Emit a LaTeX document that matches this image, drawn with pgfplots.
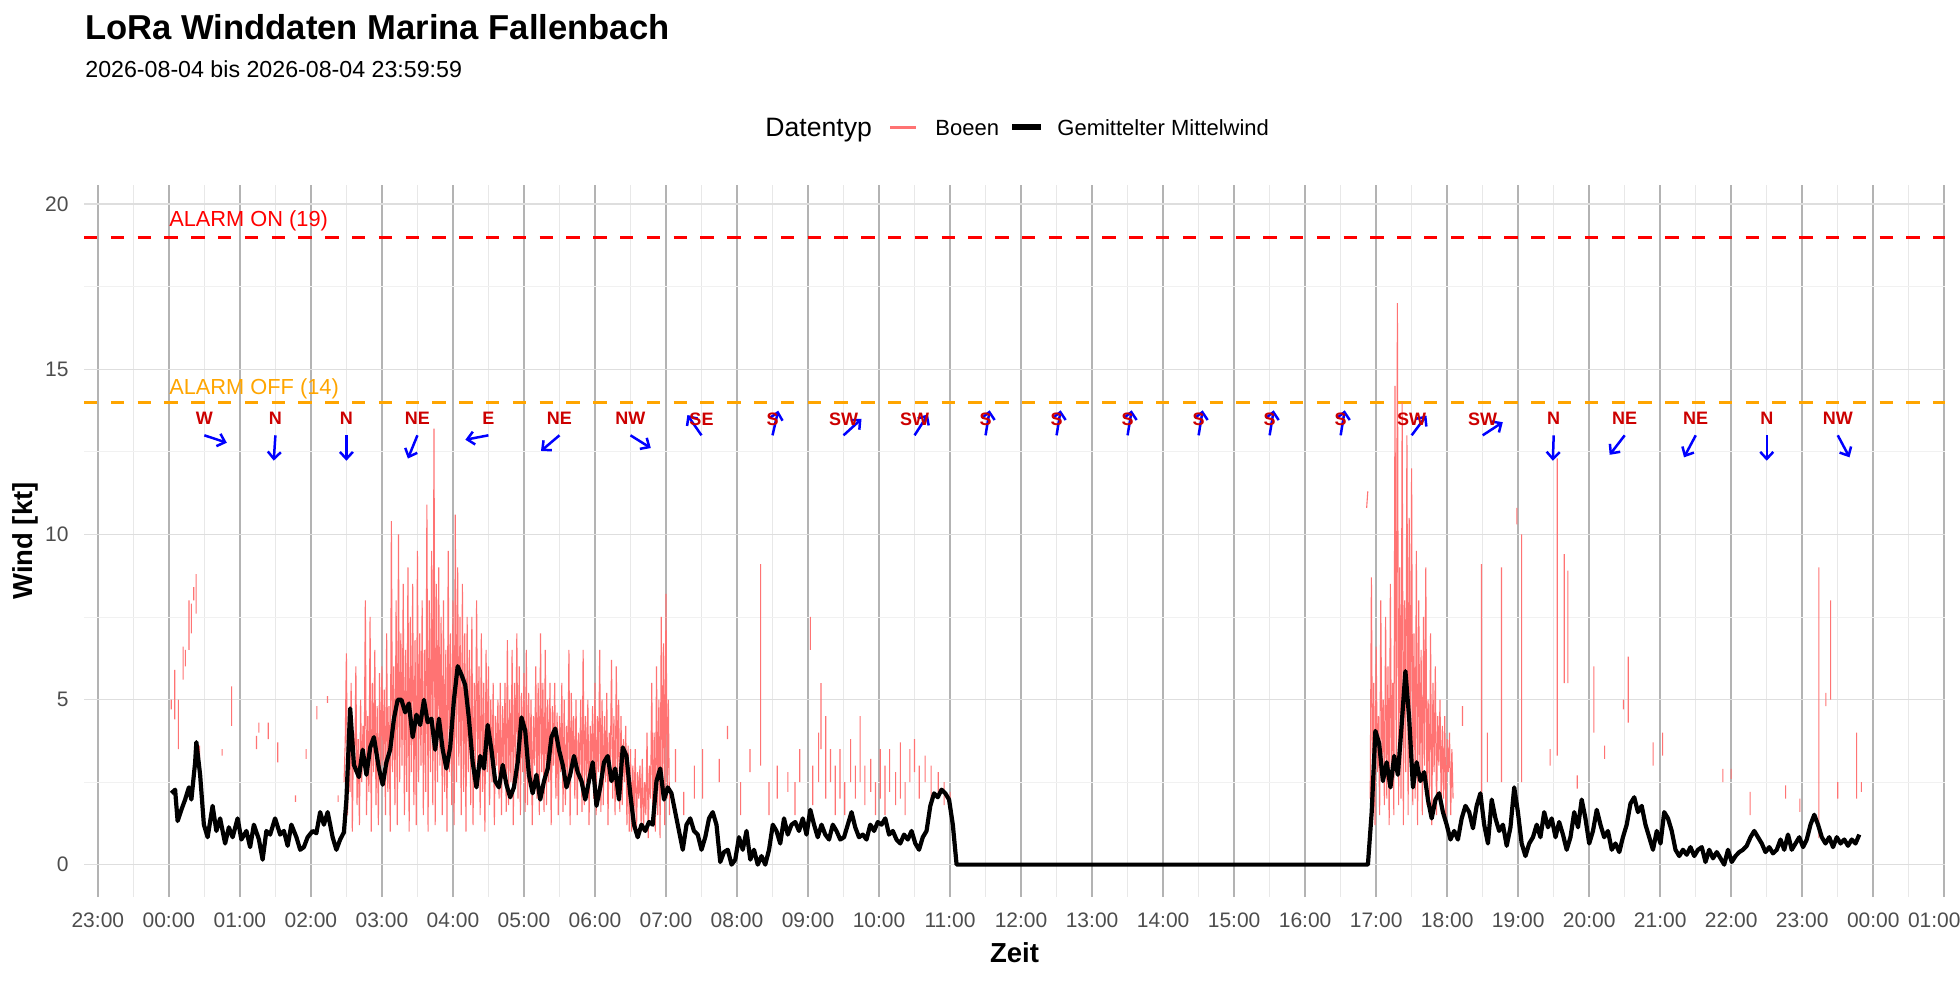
\documentclass[border=0pt]{standalone}
\usepackage{fontspec}
\setmainfont{Liberation Sans}
\usepackage{pgfplots}
\pgfplotsset{compat=1.18}
\usepackage{pgfplotstable}
\usetikzlibrary{arrows.meta}
\definecolor{gustred}{RGB}{255,115,115}
\definecolor{ticktxt}{RGB}{77,77,77}
\definecolor{majx}{RGB}{179,179,179}
\definecolor{minx}{RGB}{232,232,232}
\definecolor{majy}{RGB}{222,222,222}
\definecolor{miny}{RGB}{241,241,241}
\definecolor{alarmorange}{RGB}{255,165,0}
\definecolor{dirred}{RGB}{204,0,0}

% mean wind (hours, kt)
\pgfplotstableread[row sep=\\]{
h w\\
0.035 2.16\\0.088 2.27\\0.123 1.32\\0.176 1.66\\0.229 1.97\\0.282 2.34\\0.317 1.97\\0.370 3.10\\0.387 3.71\\0.440 2.72\\
0.493 1.21\\0.546 0.83\\0.616 1.78\\0.669 1.02\\0.722 1.40\\0.792 0.64\\0.845 1.13\\0.898 0.83\\0.968 1.40\\1.021 0.76\\
1.092 1.02\\1.144 0.53\\1.197 1.21\\1.268 0.76\\1.320 0.15\\1.373 1.02\\1.426 0.91\\1.496 1.40\\1.567 0.91\\1.620 1.02\\
1.673 0.57\\1.725 1.21\\1.796 0.83\\1.849 0.45\\1.901 0.53\\1.954 0.83\\2.025 1.02\\2.077 0.95\\2.130 1.59\\2.183 1.21\\
2.236 1.59\\2.306 0.83\\2.359 0.45\\2.412 0.76\\2.465 0.98\\2.500 1.97\\2.553 4.73\\2.606 3.02\\2.676 2.65\\2.729 3.48\\
2.782 2.72\\2.835 3.55\\2.887 3.86\\2.958 2.91\\3.011 2.42\\3.063 3.10\\3.116 3.48\\3.169 4.42\\3.222 4.99\\3.275 4.99\\
3.327 4.61\\3.380 4.88\\3.433 3.86\\3.486 4.54\\3.539 4.23\\3.592 4.99\\3.644 4.31\\3.697 4.42\\3.750 3.48\\3.803 4.42\\
3.856 3.48\\3.908 2.91\\3.961 3.55\\4.014 4.99\\4.067 6.01\\4.120 5.75\\4.173 5.44\\4.225 4.42\\4.278 3.10\\4.331 2.34\\
4.384 3.29\\4.437 2.91\\4.489 4.23\\4.542 3.48\\4.595 2.53\\4.648 2.34\\4.701 3.02\\4.754 2.42\\4.806 2.04\\4.859 2.34\\
4.912 3.10\\4.965 4.46\\5.018 4.05\\5.070 2.72\\5.123 2.16\\5.176 2.72\\5.229 1.97\\5.282 2.53\\5.335 2.91\\5.387 3.86\\
5.440 4.12\\5.493 3.48\\5.546 3.02\\5.599 2.34\\5.651 2.72\\5.704 3.29\\5.757 2.80\\5.810 2.53\\5.863 1.97\\5.915 2.53\\
5.968 3.10\\6.021 1.78\\6.074 2.34\\6.127 3.10\\6.180 3.29\\6.232 2.53\\6.285 2.91\\6.338 1.97\\6.391 3.55\\6.444 3.29\\
6.496 2.16\\6.549 1.21\\6.602 0.83\\6.655 1.21\\6.708 1.02\\6.761 1.29\\6.813 1.21\\6.866 2.53\\6.919 2.91\\6.972 1.97\\
7.025 2.34\\7.077 2.16\\7.130 1.59\\7.183 1.02\\7.236 0.45\\7.289 1.21\\7.342 1.40\\7.394 1.02\\7.447 0.91\\7.500 0.45\\
7.553 0.83\\7.606 1.40\\7.658 1.59\\7.711 1.21\\7.764 0.08\\7.817 0.38\\7.870 0.45\\7.923 0.00\\7.975 0.15\\8.028 0.83\\
8.081 0.45\\8.134 1.02\\8.187 0.15\\8.239 0.45\\8.292 0.00\\8.345 0.26\\8.398 0.00\\8.451 0.45\\8.504 1.21\\8.556 1.02\\
8.609 0.64\\8.662 1.40\\8.715 0.91\\8.768 1.21\\8.820 1.29\\8.873 1.02\\8.926 1.40\\8.979 0.91\\9.032 1.66\\9.085 1.21\\
9.137 0.83\\9.190 1.21\\9.243 0.91\\9.296 0.76\\9.349 1.21\\9.401 1.02\\9.454 0.76\\9.507 0.83\\9.560 1.21\\9.613 1.59\\
9.665 1.13\\9.718 0.83\\9.771 0.91\\9.824 0.76\\9.877 1.21\\9.930 1.02\\9.982 1.29\\10.035 1.21\\10.088 1.40\\10.141 0.91\\
10.194 1.02\\10.246 0.76\\10.299 0.64\\10.352 0.91\\10.405 0.76\\10.458 1.02\\10.511 0.64\\10.563 0.45\\10.616 0.83\\10.669 1.02\\
10.722 1.78\\10.775 2.16\\10.827 2.04\\10.880 2.27\\10.933 2.16\\10.986 1.97\\11.039 1.21\\11.092 0.00\\16.884 0.00\\16.937 1.59\\
16.989 4.05\\17.042 3.67\\17.095 2.53\\17.148 3.10\\17.201 2.34\\17.254 3.29\\17.306 2.72\\17.359 4.23\\17.412 5.86\\17.465 4.42\\
17.518 2.34\\17.570 3.10\\17.623 2.53\\17.676 2.80\\17.729 1.97\\17.782 1.40\\17.835 1.97\\17.887 2.16\\17.940 1.59\\17.993 1.21\\
18.046 0.76\\18.099 1.02\\18.151 0.76\\18.204 1.40\\18.257 1.78\\18.310 1.59\\18.363 1.10\\18.415 1.78\\18.468 2.16\\18.521 1.21\\
18.574 0.64\\18.627 1.97\\18.680 1.40\\18.732 1.02\\18.785 1.21\\18.838 0.57\\18.891 1.13\\18.944 2.34\\18.996 1.59\\19.049 0.64\\
19.102 0.26\\19.155 0.64\\19.208 0.83\\19.261 1.21\\19.313 0.83\\19.366 1.59\\19.419 1.13\\19.472 1.40\\19.525 0.83\\19.577 1.29\\
19.630 0.91\\19.683 0.45\\19.736 0.83\\19.789 1.59\\19.842 1.13\\19.894 1.97\\19.947 1.40\\20.000 0.64\\20.053 1.02\\20.106 1.66\\
20.158 1.21\\20.211 0.83\\20.264 1.02\\20.317 0.45\\20.370 0.64\\20.423 0.38\\20.475 0.83\\20.528 1.21\\20.581 1.85\\20.634 2.04\\
20.687 1.59\\20.739 1.78\\20.792 1.21\\20.845 0.83\\20.898 0.45\\20.951 1.02\\21.004 0.64\\21.056 1.59\\21.109 1.40\\21.162 1.02\\
21.215 0.45\\21.268 0.26\\21.320 0.45\\21.373 0.30\\21.426 0.53\\21.479 0.26\\21.532 0.45\\21.585 0.53\\21.637 0.08\\21.690 0.45\\
21.743 0.19\\21.796 0.38\\21.849 0.19\\21.901 0.00\\21.954 0.45\\22.007 0.08\\22.060 0.26\\22.113 0.38\\22.165 0.45\\22.218 0.57\\
22.271 0.83\\22.324 1.02\\22.377 0.83\\22.430 0.64\\22.482 0.38\\22.535 0.53\\22.588 0.34\\22.641 0.45\\22.694 0.76\\22.746 0.45\\
22.799 0.91\\22.852 0.45\\22.905 0.64\\22.958 0.83\\23.011 0.53\\23.063 0.76\\23.116 1.21\\23.169 1.51\\23.222 1.21\\23.275 0.83\\
23.327 0.64\\23.380 0.83\\23.433 0.53\\23.486 0.83\\23.539 0.64\\23.592 0.76\\23.644 0.57\\23.697 0.76\\23.750 0.64\\23.803 0.91\\
}\meanwind

% gusts (minutes after midnight, kt); nan = gap
\pgfplotstableread[row sep=\\]{
m g\\
2 4.7\\2 5.0\\2 nan\\5 4.4\\5 5.9\\5 nan\\8 3.5\\8 5.0\\8 nan\\12 5.6\\12 6.6\\12 nan\\14 6.0\\14 6.5\\14 nan\\
17 6.5\\17 8.0\\17 nan\\19 7.0\\19 7.9\\19 nan\\21 8.0\\21 8.4\\21 nan\\23 7.6\\23 8.8\\23 nan\\26 3.2\\26 3.6\\26 nan\\
45 3.3\\45 3.5\\45 nan\\53 4.2\\53 5.4\\53 nan\\74 3.5\\74 3.9\\74 nan\\76 4.0\\76 4.3\\76 nan\\84 3.8\\84 4.3\\84 nan\\
92 3.1\\92 3.7\\92 nan\\107 1.9\\107 2.1\\107 nan\\116 3.2\\116 3.5\\116 nan\\125 4.4\\125 4.8\\125 nan\\134 4.9\\134 5.1\\134 nan\\
143 1.9\\143 2.1\\143 nan\\
148 2.5\\149 3.7\\
150 6.4\\151 1.5\\152 3.5\\153 2.2\\154 5.5\\155 1.0\\156 4.0\\157 2.8\\158 6.0\\159 1.8\\160 3.8\\161 1.2\\162 5.0\\163 2.5\\164 4.2\\165 3.0\\166 8.0\\167 1.5\\168 4.5\\169 2.2\\170 7.5\\171 1.0\\172 5.5\\173 2.8\\174 6.5\\175 1.8\\176 4.8\\177 1.2\\178 5.8\\179 2.5\\
180 6.0\\181 3.0\\182 5.3\\183 1.5\\184 7.0\\185 2.2\\186 4.8\\187 1.0\\188 10.4\\189 2.8\\190 6.0\\191 1.8\\192 8.0\\193 1.2\\194 10.0\\195 2.5\\196 7.0\\197 3.0\\198 8.5\\199 1.5\\200 6.5\\201 2.2\\202 9.0\\203 1.0\\204 7.5\\205 2.8\\206 8.5\\207 1.8\\208 6.8\\209 1.2\\
210 9.5\\211 2.5\\212 7.0\\213 3.0\\214 8.0\\215 1.5\\216 6.5\\217 2.2\\218 10.9\\219 1.0\\220 8.0\\221 2.8\\222 9.5\\223 1.8\\224 13.2\\225 1.2\\226 8.5\\227 2.5\\228 9.0\\229 3.0\\230 7.5\\231 1.5\\232 8.0\\233 2.2\\234 6.5\\235 1.0\\236 9.5\\237 2.8\\238 7.0\\239 1.8\\
240 8.0\\241 1.2\\242 10.6\\243 2.5\\244 9.0\\245 3.0\\246 7.5\\247 1.5\\248 8.5\\249 2.2\\250 7.0\\251 1.0\\252 7.5\\253 2.8\\254 6.5\\255 1.8\\256 7.5\\257 1.2\\258 5.5\\259 2.5\\260 8.0\\261 3.0\\262 6.0\\263 1.5\\264 7.0\\265 2.2\\266 5.5\\267 1.0\\268 6.5\\269 2.8\\
270 6.0\\271 1.8\\272 5.0\\273 2.5\\274 5.5\\275 1.2\\276 4.5\\277 3.0\\278 5.0\\279 2.0\\280 5.5\\281 1.5\\282 4.8\\283 2.8\\284 5.5\\285 1.6\\286 6.8\\287 1.8\\288 5.0\\289 2.5\\290 6.5\\291 1.2\\292 5.5\\293 3.0\\294 7.0\\295 2.0\\296 6.0\\297 1.5\\298 5.2\\299 2.8\\
300 5.8\\301 1.6\\302 6.5\\303 1.8\\304 5.2\\305 2.5\\306 5.0\\307 1.2\\308 4.5\\309 3.0\\310 6.0\\311 2.0\\312 5.5\\313 1.5\\314 7.0\\315 2.8\\316 5.5\\317 1.6\\318 6.5\\319 1.8\\320 5.0\\321 2.5\\322 5.5\\323 1.2\\324 4.8\\325 3.0\\326 5.5\\327 2.0\\328 4.6\\329 1.5\\
330 4.5\\331 2.8\\332 5.5\\333 1.6\\334 5.0\\335 1.8\\336 4.2\\337 2.5\\338 6.5\\339 1.2\\340 5.2\\341 3.0\\342 4.5\\343 2.0\\344 5.0\\345 1.5\\346 4.0\\347 2.8\\348 5.0\\349 1.6\\350 6.5\\351 1.8\\352 4.5\\353 2.5\\354 5.0\\355 1.2\\356 4.2\\357 3.0\\358 4.8\\359 2.0\\
360 5.5\\361 1.5\\362 4.5\\363 2.8\\364 6.5\\365 1.6\\366 5.0\\367 1.8\\368 4.5\\369 2.5\\370 5.2\\371 1.2\\372 4.0\\373 3.0\\374 6.2\\375 2.0\\376 4.5\\377 1.5\\378 6.0\\379 2.8\\380 5.0\\381 1.6\\382 4.5\\383 1.8\\384 3.8\\385 2.5\\386 4.2\\387 1.2\\388 3.6\\389 1.0\\
390 3.5\\391 1.0\\392 3.0\\393 1.5\\394 3.5\\395 0.8\\396 2.8\\397 2.0\\398 3.0\\399 1.2\\400 3.2\\401 1.0\\402 2.5\\403 1.5\\404 4.0\\405 0.8\\406 3.0\\407 2.0\\408 5.5\\409 1.2\\410 4.0\\411 1.0\\412 6.0\\413 1.5\\414 5.0\\415 0.8\\416 7.5\\417 2.0\\418 6.7\\419 1.2\\420 8.2\\421 2.0\\422 5.0\\423 1.5\\423 nan\\
428 2.5\\428 3.5\\428 nan\\435 1.5\\435 2.2\\435 nan\\444 2.0\\444 3.0\\444 nan\\451 2.0\\451 3.5\\451 nan\\465 2.5\\465 3.2\\465 nan\\
472 3.8\\472 4.2\\472 nan\\483 1.5\\483 2.5\\483 nan\\491 2.8\\491 3.5\\491 nan\\500 3.0\\500 9.1\\500 nan\\507 1.5\\507 2.5\\507 nan\\
514 2.0\\514 3.0\\514 nan\\523 2.2\\523 2.8\\523 nan\\529 1.5\\529 2.5\\529 nan\\533 2.5\\533 3.5\\533 nan\\542 6.5\\542 7.5\\542 nan\\
544 1.8\\544 3.0\\544 nan\\549 2.5\\549 4.0\\549 nan\\551 3.5\\551 5.5\\551 nan\\555 2.0\\555 4.5\\555 nan\\559 2.5\\559 3.5\\559 nan\\
563 1.5\\563 3.0\\563 nan\\567 2.0\\567 3.5\\567 nan\\571 1.5\\571 2.5\\571 nan\\576 2.5\\576 3.8\\576 nan\\580 2.0\\580 3.0\\580 nan\\
584 2.5\\584 4.5\\584 nan\\588 1.8\\588 3.0\\588 nan\\593 2.2\\593 3.2\\593 nan\\597 1.5\\597 2.5\\597 nan\\601 2.0\\601 3.5\\601 nan\\
605 1.5\\605 3.0\\605 nan\\609 2.2\\609 3.5\\609 nan\\614 1.8\\614 2.8\\614 nan\\618 2.0\\618 3.7\\618 nan\\622 1.5\\622 2.5\\622 nan\\
626 2.5\\626 3.5\\626 nan\\630 2.8\\630 3.8\\630 nan\\634 2.0\\634 3.0\\634 nan\\639 2.5\\639 3.3\\639 nan\\644 2.0\\644 3.0\\644 nan\\
650 2.0\\650 2.8\\650 nan\\655 1.8\\655 2.5\\655 nan\\660 1.5\\660 2.2\\660 nan\\
1012 10.8\\1013 11.3\\1013 nan\\
1015 2.0\\1016 8.7\\1017 2.0\\1018 5.5\\1019 1.2\\1020 6.6\\1021 2.8\\1022 4.5\\1023 1.5\\1024 8.0\\1025 3.0\\1026 5.0\\1027 1.8\\1028 7.5\\1029 2.0\\1030 6.0\\1031 1.2\\1032 8.5\\1033 2.8\\1034 5.5\\1035 1.5\\
1036 14.5\\1037 3.0\\1038 17.0\\1039 1.8\\1040 9.0\\1041 2.0\\1042 14.0\\1043 1.2\\1044 8.0\\1045 2.8\\1046 13.0\\1047 1.5\\1048 10.5\\1049 3.0\\1050 12.0\\1051 1.8\\1052 7.0\\1053 2.0\\1054 9.5\\1055 1.2\\
1056 8.0\\1057 2.8\\1058 6.5\\1059 1.5\\1060 7.5\\1061 3.0\\1062 9.0\\1063 1.8\\1064 5.0\\1065 2.0\\1066 7.0\\1067 1.2\\1068 5.5\\1069 2.8\\1070 6.0\\1071 1.5\\1072 4.5\\1073 3.0\\1074 5.0\\1075 1.8\\
1076 4.2\\1077 2.0\\1078 4.5\\1079 1.2\\1080 3.8\\1081 2.8\\1082 4.0\\1083 1.5\\1084 3.5\\1085 2.0\\1085 nan\\
1093 4.2\\1093 4.8\\1093 nan\\1109 2.0\\1109 9.1\\1109 nan\\1114 2.5\\1114 4.0\\1114 nan\\1126 2.5\\1126 9.0\\1126 nan\\
1139 10.3\\1139 10.8\\1139 nan\\1143 2.5\\1143 10.0\\1143 nan\\1167 3.0\\1167 3.5\\1167 nan\\1173 3.3\\1173 12.3\\1173 nan\\
1179 5.5\\1179 9.4\\1179 nan\\1182 5.5\\1182 8.9\\1182 nan\\1190 2.3\\1190 2.7\\1190 nan\\1204 4.0\\1204 6.0\\1204 nan\\
1213 3.2\\1213 3.6\\1213 nan\\1229 4.7\\1229 5.0\\1229 nan\\1233 4.3\\1233 6.3\\1233 nan\\1254 3.0\\1254 3.7\\1254 nan\\
1262 3.3\\1262 4.0\\1262 nan\\1313 2.5\\1313 2.9\\1313 nan\\1320 2.6\\1320 2.9\\1320 nan\\1336 1.5\\1336 2.2\\1336 nan\\
1366 2.0\\1366 2.4\\1366 nan\\1378 1.6\\1378 2.0\\1378 nan\\1394 0.8\\1394 9.0\\1394 nan\\1400 4.8\\1400 5.2\\1400 nan\\
1404 5.0\\1404 8.0\\1404 nan\\1410 2.0\\1410 2.5\\1410 nan\\1426 2.0\\1426 4.0\\1426 nan\\1430 2.2\\1430 2.5\\1430 nan\\
}\gusts

% wind direction per hour: arrow start (h,y), arrow vector (u,v), label height ly
\pgfplotstableread[row sep=\\]{
h y ly u v lab\\
0.5 13.0 13.5 0.316 -0.225 W\\
1.5 13.0 13.5 -0.023 -0.768 N\\
2.5 13.0 13.5 0.000 -0.770 N\\
3.5 13.0 13.5 -0.134 -0.704 NE\\
4.5 13.0 13.5 -0.325 -0.134 E\\
5.5 13.0 13.5 -0.260 -0.474 NE\\
6.5 13.0 13.5 0.286 -0.385 NW\\
7.5 13.0 13.5 -0.199 0.615 SE\\
8.5 13.0 13.5 0.080 0.747 S\\
9.5 13.0 13.5 0.253 0.495 SW\\
10.5 13.0 13.5 0.189 0.631 SW\\
11.5 13.0 13.5 0.057 0.758 S\\
12.5 13.0 13.5 0.057 0.758 S\\
13.5 13.0 13.5 0.057 0.758 S\\
14.5 13.0 13.5 0.057 0.758 S\\
15.5 13.0 13.5 0.057 0.758 S\\
16.5 13.0 13.5 0.057 0.758 S\\
17.5 13.0 13.5 0.208 0.598 SW\\
18.5 13.0 13.5 0.283 0.397 SW\\
19.5 13.0 13.5 -0.012 -0.770 N\\
20.5 13.0 13.5 -0.212 -0.590 NE\\
21.5 13.0 13.5 -0.165 -0.667 NE\\
22.5 13.0 13.5 0.000 -0.770 N\\
23.5 13.0 13.5 0.165 -0.667 NW\\
}\winddir

\begin{document}
\begin{tikzpicture}[x=1pt,y=1pt]
\useasboundingbox (0,0) rectangle (980,490);
% titles
\node[anchor=base west, inner sep=0pt] at (42.5,470) {\fontsize{17.3}{20}\selectfont\bfseries LoRa Winddaten Marina Fallenbach};
\node[anchor=base west, inner sep=0pt] at (42.5,451.25) {\fontsize{11.6}{14}\selectfont 2026-08-04 bis 2026-08-04 23:59:59};
% legend
\node[anchor=base west, inner sep=0pt] at (382.5,421.5) {\fontsize{13.3}{16}\selectfont Datentyp};
\draw[gustred, line width=1.2pt] (445,426.25) -- (458,426.25);
\node[anchor=base west, inner sep=0pt] at (467.5,422.3) {\fontsize{11}{13}\selectfont Boeen};
\draw[black, line width=3pt] (506,426.25) -- (520.5,426.25);
\node[anchor=base west, inner sep=0pt] at (528.5,422.3) {\fontsize{11}{13}\selectfont Gemittelter Mittelwind};
% axis titles
\node[anchor=base, inner sep=0pt] at (507.25,9) {\fontsize{13.75}{16}\selectfont\bfseries Zeit};
\node[rotate=90, anchor=center, inner sep=0pt] at (12.5,219.5) {\fontsize{13.75}{16}\selectfont\bfseries Wind [kt]};
\begin{axis}[
  at={(42pt,41.5pt)}, anchor=south west,
  scale only axis, width=930.5pt, height=356pt,
  xmin=-1.195, xmax=25.01, ymin=-0.98, ymax=20.58,
  axis line style={draw=none}, tick style={draw=none},
  major tick length=0pt, minor tick length=0pt,
  xtick={-1,0,...,25},
  minor xtick={-0.5,0.5,...,24.5},
  xticklabels={23:00,00:00,01:00,02:00,03:00,04:00,05:00,06:00,07:00,08:00,09:00,10:00,11:00,12:00,13:00,14:00,15:00,16:00,17:00,18:00,19:00,20:00,21:00,22:00,23:00,00:00,},
  extra x ticks={25},
  extra x tick labels={01:00},
  extra x tick style={grid=none, xticklabel style={xshift=-5pt}},
  ytick={0,5,10,15,20},
  minor ytick={2.5,7.5,12.5,17.5},
  xmajorgrids, xminorgrids, ymajorgrids, yminorgrids,
  major x grid style={majx, line width=1.1pt},
  minor x grid style={minx, line width=0.6pt},
  major y grid style={majy, line width=0.7pt},
  minor y grid style={miny, line width=0.45pt},
  /pgf/number format/assume math mode=true,
  tick label style={font=\fontsize{10.5}{12}\selectfont, text=ticktxt},
  xticklabel style={inner sep=0pt, anchor=north, yshift=-7.5pt},
  yticklabel style={inner sep=0pt, anchor=east, xshift=-7.5pt},
  unbounded coords=jump,
  clip=true,
]
% alarm thresholds
\addplot[red, line width=1.6pt, dash pattern=on 6.7pt off 6.7pt] coordinates {(-1.195,19) (25.01,19)};
\addplot[alarmorange, line width=1.6pt, dash pattern=on 6.7pt off 6.7pt] coordinates {(-1.195,14) (25.01,14)};
% gusts
\addplot[gustred, line width=0.55pt] table[x expr=\thisrow{m}/60, y=g] {\gusts};
% mean wind
\addplot[black, line width=2.1pt, line join=round] table[x=h, y=w] {\meanwind};
% direction arrows
\addplot[blue, line width=1.25pt, quiver={u=\thisrow{u}, v=\thisrow{v}}, -{Straight Barb[length=3.5pt,width=6.5pt]}] table[x=h, y=y] {\winddir};
% direction labels
\addplot[draw=none, mark=none, nodes near coords, point meta=explicit symbolic,
  nodes near coords align={center},
  every node near coord/.append style={font=\fontsize{9}{10}\selectfont\bfseries, text=dirred, inner sep=0pt}]
  table[x=h, y=ly, meta=lab] {\winddir};
\node[anchor=west, inner sep=0pt, text=red, font=\fontsize{10.9}{12}\selectfont] at (axis cs:0,19.5) {ALARM ON (19)};
\node[anchor=west, inner sep=0pt, text=alarmorange, font=\fontsize{10.9}{12}\selectfont] at (axis cs:0,14.4) {ALARM OFF (14)};
\end{axis}
\end{tikzpicture}
\end{document}
